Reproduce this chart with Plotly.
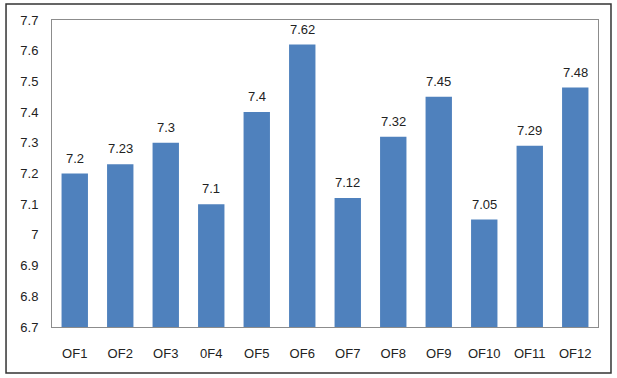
import plotly.graph_objects as go

categories = ["OF1", "OF2", "OF3", "0F4", "OF5", "OF6", "OF7", "OF8", "OF9", "OF10", "OF11", "OF12"]
values = [7.2, 7.23, 7.3, 7.1, 7.4, 7.62, 7.12, 7.32, 7.45, 7.05, 7.29, 7.48]
labels = ["7.2", "7.23", "7.3", "7.1", "7.4", "7.62", "7.12", "7.32", "7.45", "7.05", "7.29", "7.48"]
y_ticks = [6.7, 6.8, 6.9, 7.0, 7.1, 7.2, 7.3, 7.4, 7.5, 7.6, 7.7]
y_tick_text = ["6.7", "6.8", "6.9", "7", "7.1", "7.2", "7.3", "7.4", "7.5", "7.6", "7.7"]
y_min = 6.7

font_family = "Liberation Sans, Arial, sans-serif"

fig = go.Figure(go.Bar(
    x=categories,
    y=[v - y_min for v in values],
    base=y_min,
    cliponaxis=False,
    marker=dict(color="#4F81BD", line=dict(width=0)),
    hoverinfo="skip",
))

annotations = [
    dict(x=c, y=v, text=t, xref="x", yref="y", showarrow=False,
         yanchor="bottom", yshift=6, font=dict(size=13, color="#222222", family=font_family))
    for c, v, t in zip(categories, values, labels)
]

fig.update_layout(
    width=617, height=378,
    margin=dict(l=52, r=19, t=20, b=51),
    paper_bgcolor="white", plot_bgcolor="white",
    bargap=0.42,
    showlegend=False,
    font=dict(family=font_family, size=13, color="#222222"),
    xaxis=dict(
        showline=True, linecolor="#8c8c8c", linewidth=1, mirror=True,
        ticks="", ticklabelstandoff=14, showgrid=False, automargin=False,
        tickfont=dict(size=13, color="#222222"),
    ),
    yaxis=dict(
        range=[6.7, 7.7], tickvals=y_ticks, ticktext=y_tick_text,
        showline=True, linecolor="#8c8c8c", linewidth=1, mirror=True,
        ticks="", ticklabelstandoff=10, showgrid=False, zeroline=False, automargin=False,
        tickfont=dict(size=13, color="#222222"),
    ),
    annotations=annotations,
    shapes=[dict(
        type="rect", xref="paper", yref="paper",
        x0=-0.0842, x1=1.0238, y0=-0.150, y1=1.052,
        line=dict(color="#333333", width=1.5), fillcolor="rgba(0,0,0,0)", layer="below",
    )],
)

fig.write_html("out.html", config={"displayModeBar": False})

# remove the browser's default page margin so the figure sits at (0, 0)
with open("out.html", "r", encoding="utf-8") as f:
    html = f.read()
html = html.replace("<head>", "<head><style>html,body{margin:0;padding:0;overflow:hidden;}</style>", 1)
with open("out.html", "w", encoding="utf-8") as f:
    f.write(html)
